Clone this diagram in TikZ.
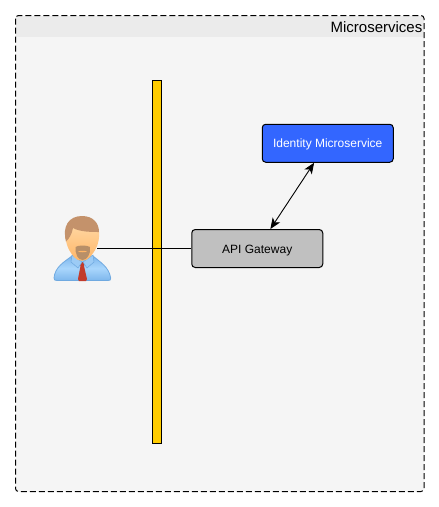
\documentclass[tikz,border=0pt]{standalone}
\usepackage{fontspec}
\setmainfont{Liberation Sans}
\usetikzlibrary{arrows.meta}
\definecolor{panelbg}{HTML}{F5F5F5}
\definecolor{headbg}{HTML}{EBEBEB}
\definecolor{idblue}{HTML}{3366FF}
\definecolor{gwgrey}{HTML}{C0C0C0}
\definecolor{baryellow}{HTML}{FFCC00}
\definecolor{shirtedge}{HTML}{6FA9E0}
\definecolor{shirtmid}{HTML}{A9D6FC}
\definecolor{shirtlow}{HTML}{7DB6EC}
\definecolor{collarc}{HTML}{9CCBF5}
\definecolor{tiec}{HTML}{C23B2C}
\definecolor{facetop}{HTML}{FFD9A6}
\definecolor{facelow}{HTML}{FFB566}
\definecolor{hairc}{HTML}{C4926B}
\definecolor{beardc}{HTML}{B88F68}
\tikzset{
  box/.style={draw=black,line width=1pt,rounded corners=3.5pt,minimum width=131pt,minimum height=38pt,inner sep=0pt,font=\fontsize{12}{14}\selectfont,anchor=center,text height=9pt,text depth=0pt},
  link/.style={draw=black,line width=.9pt},
  biarrow/.style={link,{Stealth[length=11pt,width=9pt,inset=3pt]}-{Stealth[length=11pt,width=9pt,inset=3pt]}}
}
\begin{document}
\begin{tikzpicture}[x=1pt,y=-1pt]
\useasboundingbox (0,0) rectangle (439,507);
\fill[white] (0,0) rectangle (439,507);
% panel
\fill[panelbg,rounded corners=3pt] (15.5,15.5) rectangle (424,491.5);
\begin{scope}
\clip[rounded corners=3pt] (15.5,15.5) rectangle (424,491.5);
\fill[headbg] (15.5,15.5) rectangle (424,37);
\end{scope}
\draw[black,line width=1pt,dash pattern=on 6pt off 3pt,rounded corners=3pt] (15.5,15.5) rectangle (424,491.5);
\node[anchor=east,inner sep=0pt,font=\fontsize{15}{17}\selectfont] (title) at (422.5,27) {Microservices};
% bar
\node[draw=black,fill=baryellow,line width=1pt,minimum width=9pt,minimum height=363pt,inner sep=0pt] (bar) at (157,262) {};
% person anchor
\node[minimum width=30pt,minimum height=60pt,inner sep=0pt] (user) at (82,248.5) {};
% nodes
\node[box,fill=gwgrey] (api) at (257.25,248.5) {API Gateway};
\node[box,fill=idblue,text=white] (id) at (327.75,143.25) {Identity Microservice};
% connectors
\draw[link] (user.east) -- (api.west);
\draw[biarrow] (api.56) -- (id.235);
% person body
\draw[draw=shirtedge,line width=.8pt,top color=shirtlow,bottom color=shirtlow,middle color=shirtmid]
  (72,256) .. controls (64,262) and (55,267) .. (54,278) .. controls (54,280) and (55,280.5) .. (57,280.5)
  -- (108,280.5) .. controls (110,280.5) and (111,280) .. (110.7,278) .. controls (109,267) and (100,262) .. (93,256) -- cycle;
% tie
\fill[tiec] (79,262) -- (85,262) -- (84,266) -- (87,279) -- (86,281) -- (79,281) -- (78,279) -- (80.5,266) -- cycle;
% collar
\fill[collarc,draw=shirtedge,line width=.5pt] (72,255) -- (82,262) -- (78,268) -- (71,262) -- cycle;
\fill[collarc,draw=shirtedge,line width=.5pt] (93,255) -- (83,262) -- (87,268) -- (94,262) -- cycle;
% face
\shade[top color=facetop,bottom color=facelow]
  (65.5,233) .. controls (66,222) and (98,222) .. (99,232) .. controls (100,245) and (94,252) .. (90,257)
  .. controls (86,262) and (78,262) .. (74,257) .. controls (70,252) and (65,245) .. (65.5,233) -- cycle;
% beard
\fill[beardc] (75.5,247) .. controls (78,245) and (87,245) .. (90,247)
  .. controls (91,254) and (87,260) .. (82.5,260) .. controls (78,260) and (75,254) .. (75.5,247) -- cycle;
\fill[facelow] (78,251.5) .. controls (80,250.5) and (85,250.5) .. (87,251.5) .. controls (85,252.5) and (80,252.5) .. (78,251.5) -- cycle;
% hair
\fill[hairc] (66,241.5) .. controls (62,226) and (69,216) .. (82,216)
  .. controls (93,216) and (99,223) .. (99,232) .. controls (92,232) and (80,232) .. (73,228)
  .. controls (72,234) and (69,239) .. (66,241.5) -- cycle;
\end{tikzpicture}
\end{document}
